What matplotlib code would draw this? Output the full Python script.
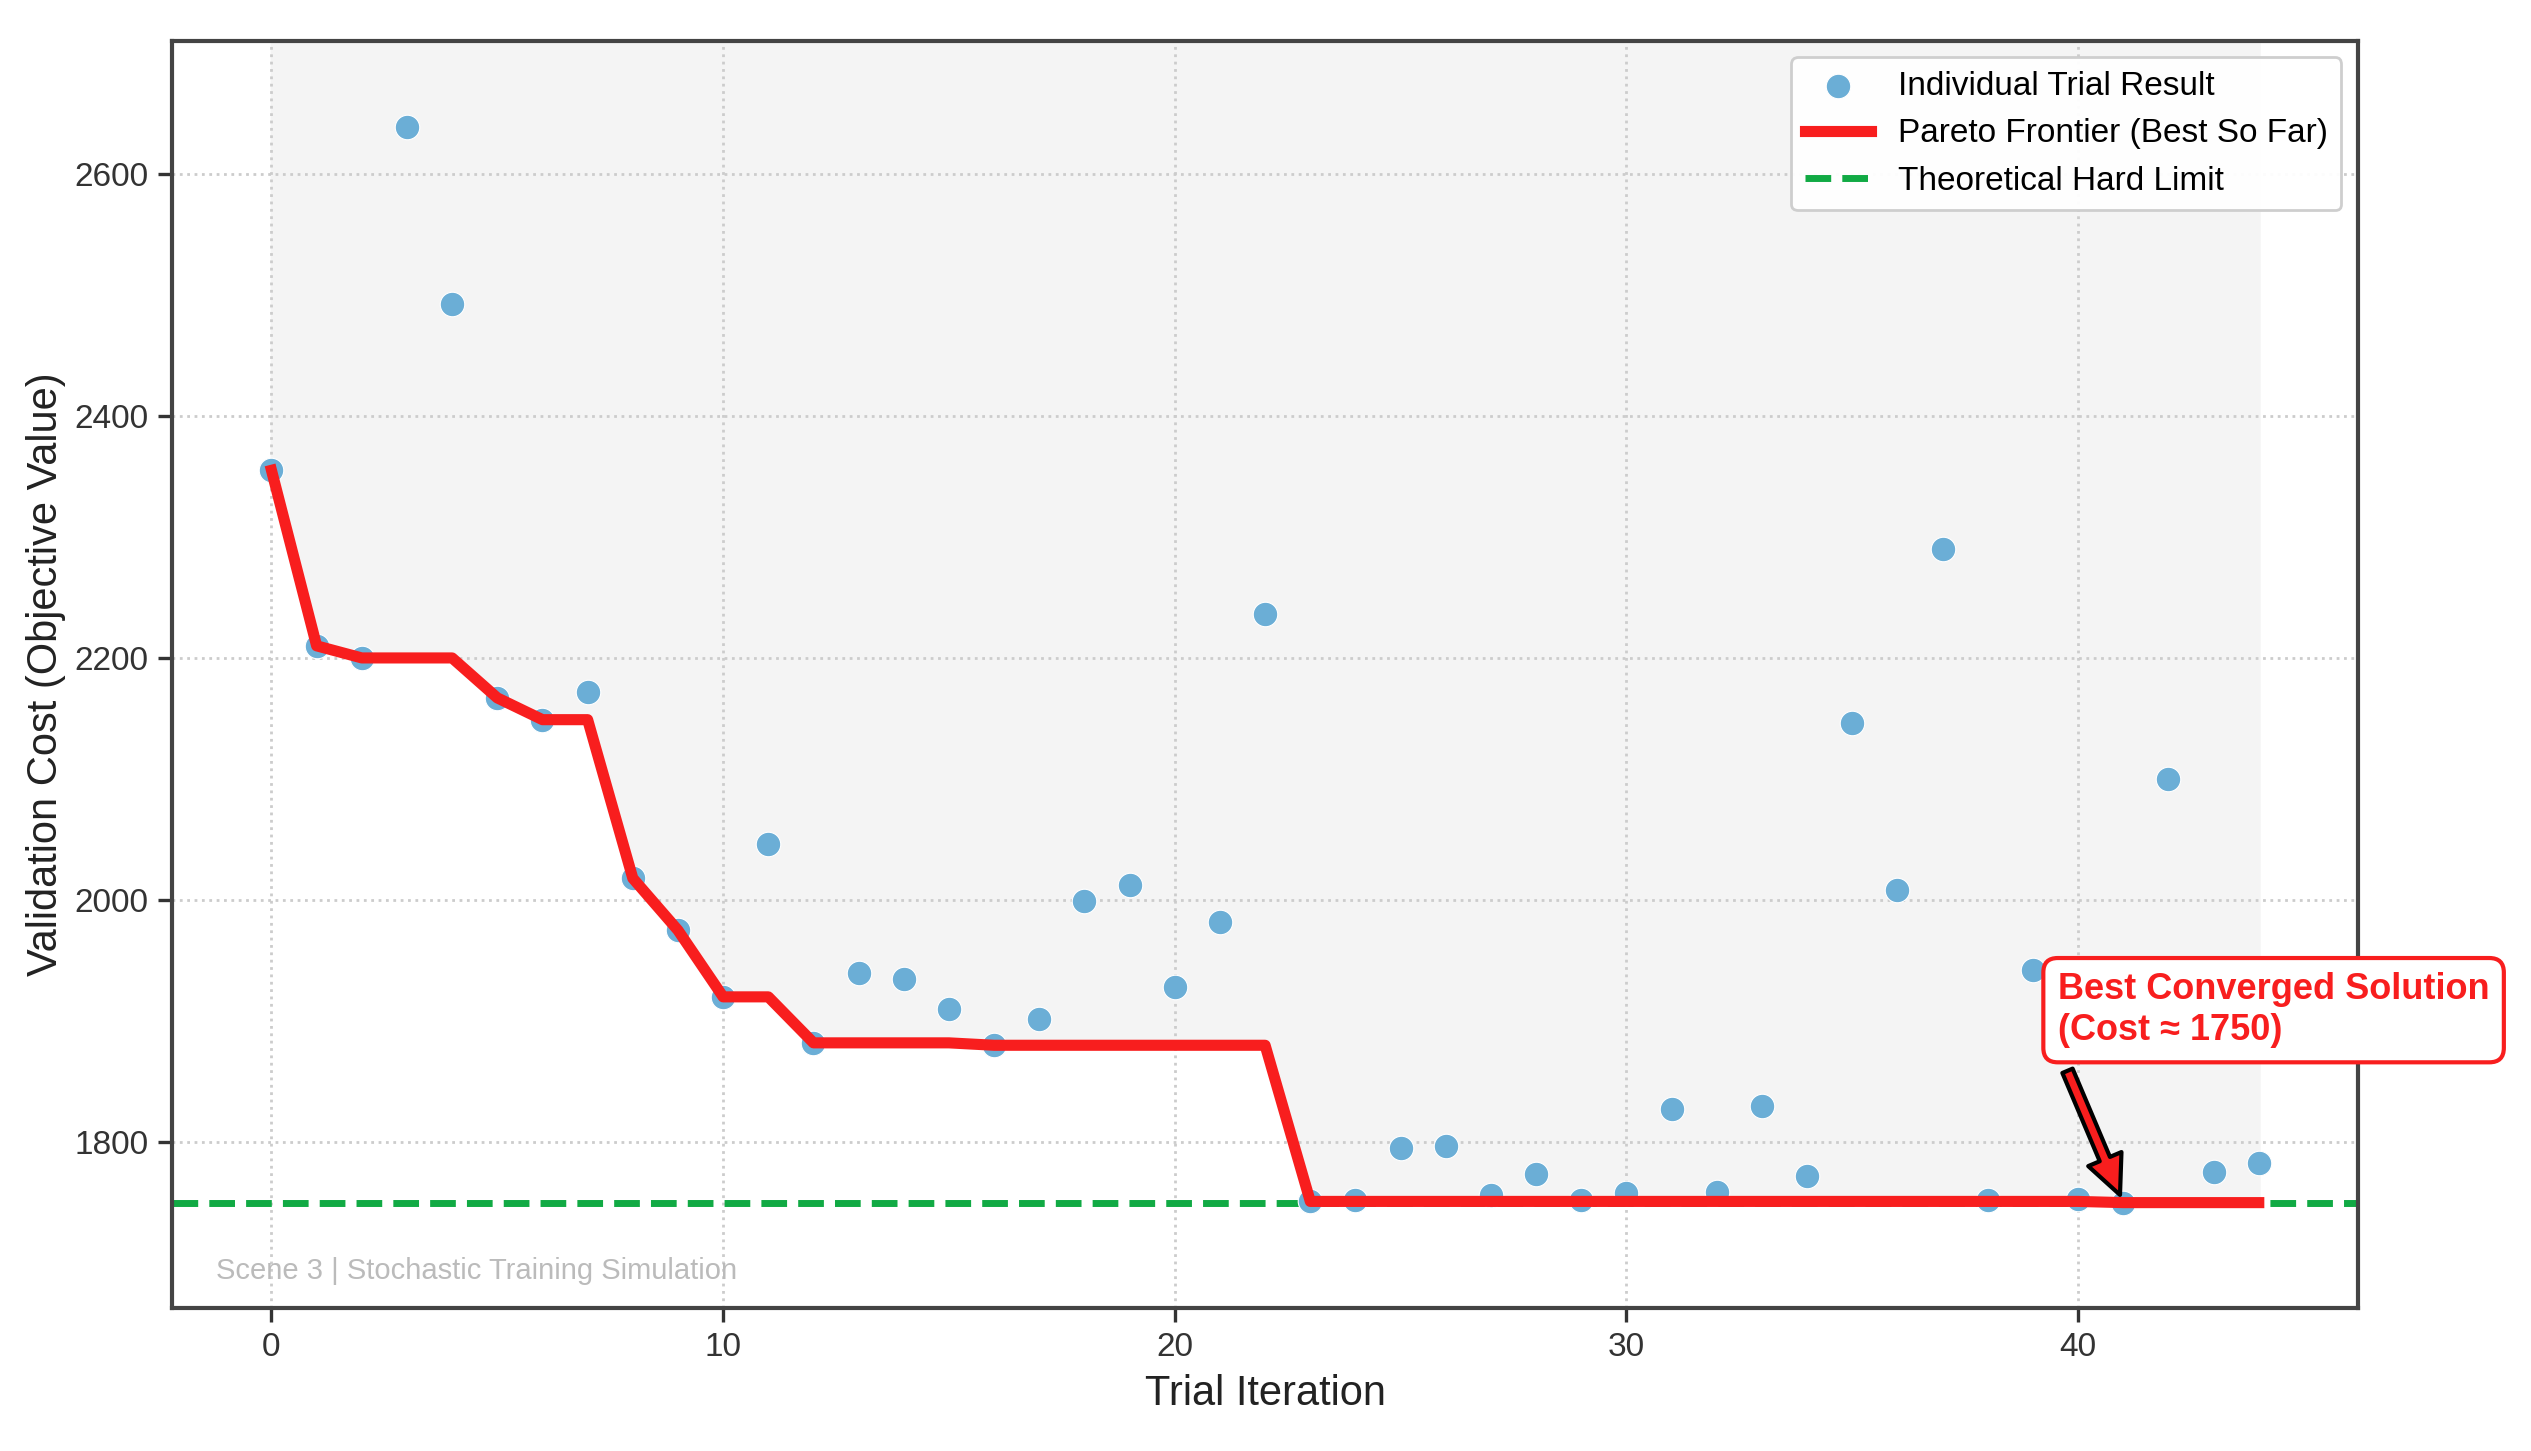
import matplotlib
matplotlib.use("Agg")
import matplotlib.pyplot as plt
import numpy as np

plt.rcParams["font.family"] = ["Liberation Sans", "DejaVu Sans"]

# trial results
trials = np.arange(45)
costs = [
    2355, 2210, 2200, 2639, 2492, 2167, 2149, 2172, 2018, 1975,
    1920, 2046, 1882, 1940, 1935, 1910, 1880, 1902, 1999, 2012,
    1928, 1982, 2236, 1751, 1752, 1795, 1797, 1756, 1774, 1752,
    1758, 1827, 1759, 1830, 1772, 2146, 2008, 2290, 1752, 1942,
    1753, 1750, 2100, 1775, 1783,
]
hard_limit = 1750
best_cost = 1750

best_so_far = np.minimum.accumulate(costs)

fig, ax = plt.subplots(figsize=(12.655, 7.255), dpi=200)
fig.subplots_adjust(left=0.068, right=0.9317, top=0.972, bottom=0.0986)

ax.set_xlim(-2.2, 46.2)
ax.set_ylim(1663, 2710)

# shaded region above the frontier
ax.fill_between(trials, best_so_far, ax.get_ylim()[1], color="#f4f4f4", zorder=0)

ax.scatter(trials, costs, s=78, color="#6baed6", edgecolors="white",
           linewidths=0.4, zorder=3, label="Individual Trial Result")
ax.plot(trials, best_so_far, color="#f81e1e", lw=4, zorder=4,
        label="Pareto Frontier (Best So Far)")
ax.axhline(hard_limit, color="#11aa44", lw=2.5, ls="--", zorder=2,
           label="Theoretical Hard Limit")

ax.annotate("Best Converged Solution\n(Cost \u2248 1750)",
            xy=(41, best_cost), xytext=(39.55, 1909),
            ha="left", va="center", fontsize=13, fontweight="bold", color="#f81e1e",
            bbox=dict(boxstyle="round,pad=0.4", fc="white", ec="#f81e1e", lw=1.5),
            arrowprops=dict(facecolor="#f81e1e", edgecolor="black", shrink=0.05,
                            width=4, headwidth=13, headlength=14, lw=1.5),
            zorder=6)

ax.text(0.02, 0.018, "Scene 3 | Stochastic Training Simulation", transform=ax.transAxes,
        fontsize=10.5, color="#bbbbbb", ha="left", va="bottom")

ax.set_xticks([0, 10, 20, 30, 40])
ax.set_yticks([1800, 2000, 2200, 2400, 2600])
ax.grid(True, ls=":", color="#cccccc", lw=1.0)
ax.tick_params(labelsize=12, colors="#333333", length=5, width=1.2)
for s in ax.spines.values():
    s.set_color("#444444")
    s.set_linewidth(1.5)

ax.set_xlabel("Trial Iteration", fontsize=15, color="#222222", labelpad=4)
ax.set_ylabel("Validation Cost (Objective Value)", fontsize=15, color="#222222", labelpad=3)

leg = ax.legend(loc="upper right", fontsize=12, frameon=True, fancybox=True,
                framealpha=0.95, edgecolor="#cccccc")

fig.savefig("out.png", dpi=200)
